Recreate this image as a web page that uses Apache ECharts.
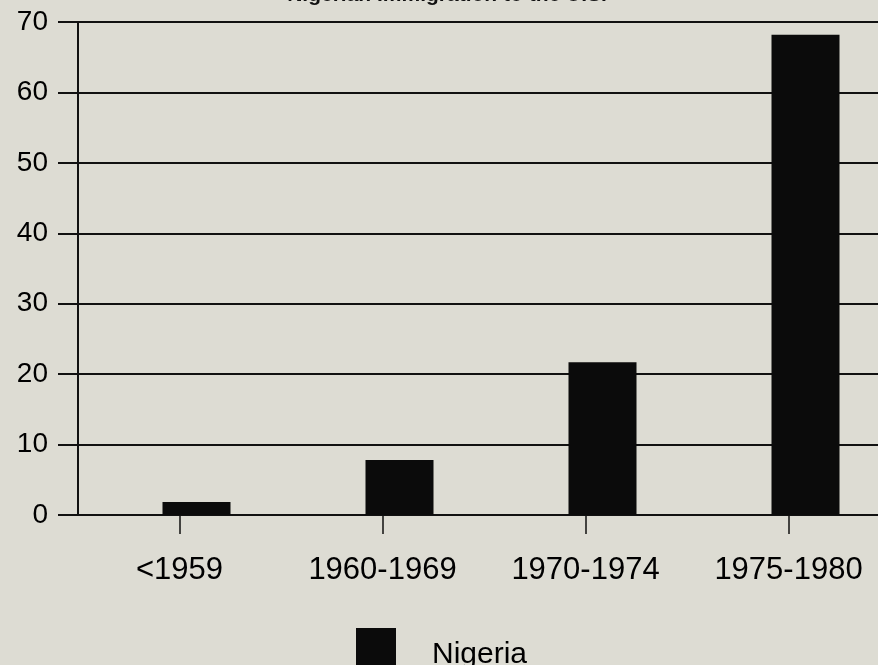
<!DOCTYPE html>
<html>
<head>
<meta charset="utf-8">
<script src="https://cdn.jsdelivr.net/npm/echarts@6/dist/echarts.min.js"></script>
<style>
html,body{margin:0;padding:0;background:#dddcd3;overflow:hidden;width:878px;height:665px;}
#chart{width:890px;height:665px;}
</style>
</head>
<body>
<div id="chart"></div>
<script>
const titleText = 'Nigerian Immigration to the U.S.';
const categories = ['<1959', '1960-1969', '1970-1974', '1975-1980'];
const seriesName = 'Nigeria';
const nigeriaValues = [1.85, 7.8, 21.7, 68.2];
const padValues = ['-', '-', '-', '-'];

const chart = echarts.init(document.getElementById('chart'), null, {renderer: 'canvas'});
const fontFamily = '"Liberation Sans", Arial, sans-serif';
chart.setOption({
  backgroundColor: '#dddcd3',
  animation: false,
  graphic: [{
    type: 'text',
    x: 447,
    y: 6,
    style: {
      text: titleText,
      font: 'bold 21px ' + fontFamily,
      fill: '#111',
      align: 'center',
      verticalAlign: 'bottom'
    }
  }],
  legend: {
    data: [seriesName],
    left: 351,
    top: 623,
    icon: 'rect',
    itemWidth: 40,
    itemHeight: 54,
    selectedMode: false,
    textStyle: {
      fontFamily: fontFamily,
      fontSize: 30,
      color: '#000',
      padding: [0, 0, 0, 31]
    }
  },
  grid: {left: 78, right: 0, top: 22, bottom: 150, containLabel: false},
  xAxis: {
    type: 'category',
    data: categories,
    boundaryGap: true,
    axisLine: {show: true, lineStyle: {color: '#111', width: 2}},
    axisTick: {show: true, alignWithLabel: true, length: 19, lineStyle: {color: '#111', width: 1.5}},
    axisLabel: {margin: 40, fontFamily: fontFamily, fontSize: 31, color: '#000'},
    splitLine: {show: false}
  },
  yAxis: {
    type: 'value',
    min: 0,
    max: 70,
    interval: 10,
    axisLine: {show: true, lineStyle: {color: '#111', width: 2}},
    axisTick: {show: true, length: 20, lineStyle: {color: '#111', width: 2}},
    axisLabel: {margin: 30, fontFamily: fontFamily, fontSize: 28, color: '#000'},
    splitLine: {show: true, lineStyle: {color: '#111', width: 2}}
  },
  series: [
    {name: 'pad', type: 'bar', data: padValues, barWidth: 68, barGap: '-50%', itemStyle: {color: 'rgba(0,0,0,0)'}, silent: true},
    {name: seriesName, type: 'bar', data: nigeriaValues, barWidth: 68, barGap: '-50%', itemStyle: {color: '#0b0b0b'}}
  ]
});
</script>
</body>
</html>
